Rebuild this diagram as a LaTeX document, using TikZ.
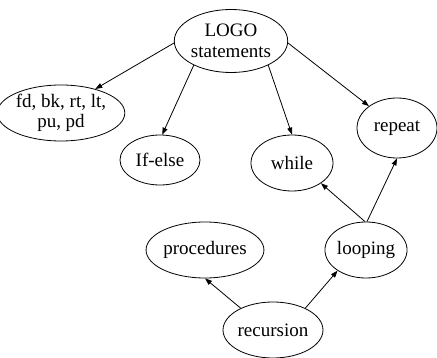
\documentclass[tikz,border=0pt]{standalone}
\usepackage{fontspec}
\setmainfont{Liberation Serif}
\usetikzlibrary{shapes.geometric,arrows.meta}
\begin{document}
\begin{tikzpicture}[x=1pt,y=-1pt,
  el/.style={ellipse,draw,line width=0.8pt,inner sep=0pt,align=center,
    font=\fontsize{19}{20.5}\selectfont},
  ed/.style={line width=0.8pt,-{Triangle[length=7pt,width=5pt]}}]
\useasboundingbox (0,0) rectangle (437,358);
\node[el,minimum width=108pt,minimum height=63pt] (logo) at (231,41) {LOGO\\statements};
\node[el,minimum width=108pt,minimum height=56pt] (fd) at (61,113) {fd, bk, rt, lt,\\pu, pd};
\node[el,minimum width=80pt,minimum height=50pt] (ifelse) at (160,160) {If-else};
\node[el,minimum width=82pt,minimum height=56pt] (while) at (292,163) {while};
\node[el,minimum width=80pt,minimum height=60pt] (repeat) at (397,128) {repeat};
\node[el,minimum width=80pt,minimum height=56pt] (looping) at (366,250) {looping};
\node[el,minimum width=94pt,minimum height=56pt] (proc) at (205,250) {procedures};
\node[el,minimum width=82pt,minimum height=56pt] (rec) at (273,330) {recursion};
\draw[ed] (logo.182) -- (fd.35);
\draw[ed] (logo.213) -- (ifelse.85);
\draw[ed] (logo.-33) -- (while.90);
\draw[ed] (logo.-2) -- (repeat.142);
\draw[ed] (looping.92) -- (while.-35);
\draw[ed] (looping.88) -- (repeat.-90);
\draw[ed] (rec.146) -- (proc.-90);
\draw[ed] (rec.34) -- (looping.216);
\end{tikzpicture}
\end{document}
